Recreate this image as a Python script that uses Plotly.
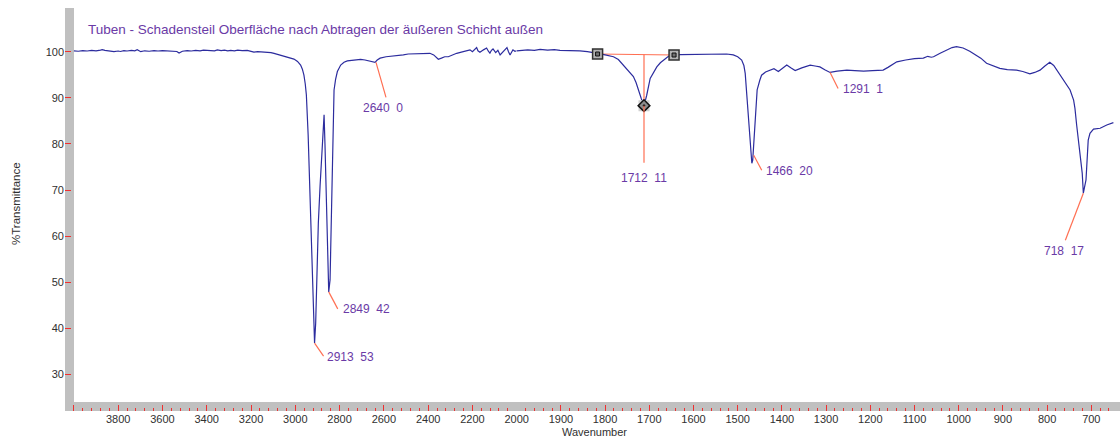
import plotly.graph_objects as go

# ---------------- data ----------------
wavenumber = [
    4000, 3980, 3960, 3940, 3920, 3900, 3880, 3872, 3860, 3840, 3819, 3800, 3790, 3774, 3760, 3740,
    3725, 3714, 3698, 3680, 3660, 3638, 3620, 3600, 3578, 3560, 3548, 3535, 3525, 3510, 3488, 3470,
    3450, 3430, 3415, 3397, 3380, 3365, 3352, 3335, 3320, 3305, 3292, 3275, 3260, 3240, 3217, 3200,
    3187, 3170, 3150, 3127, 3110, 3096, 3075, 3051, 3030, 3006, 2990, 2976, 2968, 2961, 2955, 2950,
    2942, 2934, 2926, 2919, 2913, 2908, 2902, 2896, 2888, 2881, 2875, 2870, 2866, 2861, 2856, 2851,
    2849, 2843, 2838, 2833, 2828, 2825, 2818, 2810, 2795, 2780, 2765, 2740, 2720, 2705, 2685, 2665,
    2645, 2640, 2630, 2617, 2590, 2560, 2540, 2512, 2490, 2460, 2437, 2410, 2392, 2375, 2362, 2354,
    2340, 2325, 2309, 2290, 2271, 2250, 2230, 2211, 2200, 2190, 2181, 2175, 2166, 2150, 2136, 2128,
    2121, 2114, 2107, 2095, 2085, 2075, 2060, 2044, 2037, 2030, 2022, 2017, 2008, 2000,
    1993, 1975, 1960, 1947, 1930, 1915, 1902, 1885, 1870, 1857, 1840, 1825, 1817, 1800, 1790, 1781,
    1770, 1759, 1748, 1736, 1730, 1725, 1718, 1712, 1706, 1698, 1690, 1683, 1675, 1668, 1658, 1649,
    1644, 1630, 1608, 1580, 1560, 1540, 1525, 1510, 1500, 1491, 1486, 1483, 1479, 1476, 1472, 1468,
    1466, 1461, 1456, 1450, 1446, 1437, 1427, 1418, 1408, 1398, 1389, 1380, 1370, 1355, 1336, 1325,
    1314, 1303, 1291, 1275, 1253, 1235, 1215, 1195, 1171, 1160, 1150, 1140, 1120, 1100, 1080, 1070,
    1062, 1057, 1042, 1025, 1015, 1005, 990, 975, 967, 950, 937, 920, 907, 890, 869, 855,
    839, 828, 816, 805, 794, 785, 778, 771, 760, 748, 740, 737, 733, 726, 720.5, 718,
    712, 707, 703, 695, 680, 665, 650,
]
transmittance = [
    100.2, 100.1, 100.25, 100.15, 100.3, 100.2, 100.35, 100.45, 100.3, 100.15, 100.0, 100.15, 100.05, 100.25, 100.15, 100.3,
    100.2, 100.45, 100.0, 100.2, 100.1, 100.25, 100.15, 100.25, 100.2, 100.1, 100.0, 100.05, 99.7, 100.1, 100.25, 100.15,
    100.3, 100.2, 100.35, 100.25, 100.3, 100.2, 100.4, 100.25, 100.35, 100.2, 100.3, 100.2, 100.35, 100.25, 100.3, 100.1,
    99.9, 100.0, 99.95, 99.9, 99.8, 99.65, 99.35, 99.1, 98.8, 98.4, 97.9, 97.1, 96.2, 94.9, 93.0, 90.6,
    82.0, 70.0, 58.0, 48.3, 36.8, 41.1, 52.0, 62.8, 71.0, 77.2, 82.5, 86.3, 80.0, 70.0, 62.0, 55.5,
    47.9, 50.5, 62.8, 77.2, 87.0, 91.7, 94.0, 95.7, 97.1, 97.7, 98.0, 98.2, 98.3, 98.35, 98.2, 98.0,
    97.8, 97.7, 98.2, 98.6, 98.9, 99.0, 99.2, 99.3, 99.5, 99.55, 99.65, 99.7, 99.65, 99.3, 98.7, 98.35,
    98.6, 98.9, 98.9, 99.3, 99.65, 99.9, 100.1, 100.4, 100.0, 100.5, 100.9, 100.2, 99.9, 100.4, 100.8, 100.1,
    99.7, 100.3, 100.6, 99.8, 100.3, 99.3, 100.2, 100.9, 100.0, 99.3, 100.0, 100.4, 100.1, 100.2,
    100.3, 100.4, 100.3, 100.5, 100.35, 100.45, 100.3, 100.25, 100.3, 100.2, 100.0, 99.8, 99.65, 99.3, 99.1, 98.9,
    98.3, 97.1, 96.0, 94.6, 93.3, 91.7, 89.8, 88.3, 90.5, 94.2, 95.6, 96.7, 97.6, 98.2, 98.9, 99.3,
    99.2, 99.35, 99.4, 99.5, 99.55, 99.6, 99.5, 99.3, 98.9, 98.2, 97.0, 95.3, 90.0, 84.5, 79.0, 75.8,
    76.5, 84.5, 91.7, 93.8, 94.9, 95.6, 95.9, 96.3, 95.7, 96.5, 97.1, 96.5, 95.9, 96.5, 97.1, 96.9,
    96.7, 96.1, 95.5, 95.8, 96.0, 95.9, 95.8, 95.9, 96.0, 96.6, 97.3, 97.8, 98.2, 98.5, 98.6, 99.0,
    98.8, 98.9, 99.65, 100.4, 100.9, 101.1, 100.8, 100.1, 99.65, 98.6, 97.5, 96.9, 96.4, 96.1, 96.0, 95.7,
    95.2, 95.5, 96.0, 96.9, 97.7, 97.0, 96.0, 94.9, 93.3, 91.7, 89.5, 87.7, 84.0, 78.7, 73.6, 69.3,
    72.2, 80.8, 82.3, 83.2, 83.4, 84.1, 84.6,
]

peak_wn = [2913, 2849, 2640, 1712, 1466, 1291, 718]
peak_T = [36.8, 47.9, 97.7, 88.3, 75.8, 95.5, 69.3]
peak_labels = ["2913\u00a0 53", "2849\u00a0 42", "2640\u00a0 0", "1712\u00a0 11",
               "1466\u00a0 20", "1291\u00a0 1", "718\u00a0 17"]

baseline_wn = [1817, 1644]
baseline_T = [99.5, 99.28]

x_ticks_high = [4000, 3800, 3600, 3400, 3200, 3000, 2800, 2600, 2400, 2200]
x_ticks_low = [2000, 1900, 1800, 1700, 1600, 1500, 1400, 1300, 1200, 1100, 1000, 900, 800, 700]
y_ticks = [30, 40, 50, 60, 70, 80, 90, 100]

title_text = "Tuben - Schadensteil Oberfläche nach Abtragen der äußeren Schicht außen"

# ---------------- style / layout ----------------
W, H = 1120, 441
ML, MR, MT, MB = 65, 6, 8, 30
PW = W - ML - MR
PH = H - MT - MB
split_frac = (516.7 - ML) / PW

LINE = "#2c2c9e"
PURPLE = "#6a3aa6"
LEAD = "#ff6f52"
TICKRED = "#f03030"
GRAY = "#c0c0c0"
FONT = "Liberation Sans, Arial, sans-serif"

# label placement (pixel offsets relative to peak): xshift, yshift(down), anchor
label_pos = [(10, 14, "left"), (12, 17, "left"), (8, 46, "center"), (0, 72, "center"),
             (11, 8, "left"), (11, 17, "left"), (-19, 58, "center")]
# leader line pixel offsets (start dx, dy, end dx, dy), y down
leader_pos = [(0, 0, 9, 13), (0, 0, 9, 17), (1, 0, 11, 35), (0, 0, 0, 57),
              (1, -8, 9, 7), (0, 0, 8, 16), (0, 0, -18, 47)]

hi = [(w, t) for w, t in zip(wavenumber, transmittance) if w >= 2000]
lo = [(w, t) for w, t in zip(wavenumber, transmittance) if w <= 2000]

def ax_of(w):
    return "x" if w > 2000 else "x2"

fig = go.Figure()

# baseline + vertical for 1712
base_at_peak = baseline_T[0] + (baseline_T[1] - baseline_T[0]) * (baseline_wn[0] - 1712) / (baseline_wn[0] - baseline_wn[1])
fig.add_trace(go.Scatter(x=baseline_wn, y=baseline_T, xaxis="x2", yaxis="y", mode="lines",
                         line=dict(color=LEAD, width=1.2), hoverinfo="skip"))
fig.add_trace(go.Scatter(x=[1712, 1712], y=[base_at_peak, peak_T[3]], xaxis="x2", yaxis="y", mode="lines",
                         line=dict(color=LEAD, width=1.2), hoverinfo="skip"))

fig.add_trace(go.Scatter(x=[p[0] for p in hi], y=[p[1] for p in hi], xaxis="x", yaxis="y",
                         mode="lines", line=dict(color=LINE, width=1.2)))
fig.add_trace(go.Scatter(x=[p[0] for p in lo], y=[p[1] for p in lo], xaxis="x2", yaxis="y",
                         mode="lines", line=dict(color=LINE, width=1.2)))

# markers
fig.add_trace(go.Scatter(x=baseline_wn, y=baseline_T, xaxis="x2", yaxis="y", mode="markers",
                         marker=dict(symbol="square", size=10, color="#b4b4b4", line=dict(color="#303030", width=1.5))))
fig.add_trace(go.Scatter(x=baseline_wn, y=baseline_T, xaxis="x2", yaxis="y", mode="markers",
                         marker=dict(symbol="square", size=4, color="#707070", line=dict(color="#101010", width=1))))
fig.add_trace(go.Scatter(x=[1712], y=[peak_T[3]], xaxis="x2", yaxis="y", mode="markers",
                         marker=dict(symbol="square", size=11, color="#d0d0d0", line=dict(width=0))))
fig.add_trace(go.Scatter(x=[1712], y=[peak_T[3]], xaxis="x2", yaxis="y", mode="markers",
                         marker=dict(symbol="diamond-dot", size=9, color="#8a8a8a", line=dict(color="#101010", width=1.5))))

shapes = [
    dict(type="rect", xref="paper", yref="paper", x0=0, x1=9 / PW, y0=0, y1=1,
         fillcolor=GRAY, line=dict(width=0), layer="below"),
    dict(type="rect", xref="paper", yref="paper", x0=0, x1=(W - ML) / PW, y0=0, y1=9 / PH,
         fillcolor=GRAY, line=dict(width=0), layer="below"),
]
for w, t, (sx, sy, ex, ey) in zip(peak_wn, peak_T, leader_pos):
    shapes.append(dict(type="line", xref=ax_of(w), yref="y", xsizemode="pixel", ysizemode="pixel",
                       xanchor=w, yanchor=t, x0=sx, x1=ex, y0=-sy, y1=-ey,
                       line=dict(color=LEAD, width=1.2)))

annotations = []
for w, t, lab, (dx, dy, anc) in zip(peak_wn, peak_T, peak_labels, label_pos):
    annotations.append(dict(x=w, y=t, xref=ax_of(w), yref="y", text=lab, showarrow=False,
                            xanchor=anc, yanchor="middle", xshift=dx, yshift=-dy,
                            font=dict(family=FONT, size=12, color=PURPLE)))
annotations.append(dict(x=(86 - ML) / PW, y=(H - MB - 30) / PH, xref="paper", yref="paper",
                        text=title_text, showarrow=False, xanchor="left", yanchor="middle",
                        font=dict(family=FONT, size=13.5, color=PURPLE)))
annotations.append(dict(x=(594 - ML) / PW, y=(H - MB - 432) / PH, xref="paper", yref="paper",
                        text="Wavenumber", showarrow=False, xanchor="center", yanchor="middle",
                        font=dict(family=FONT, size=11, color="#303030")))
annotations.append(dict(x=(16 - ML) / PW, y=(H - MB - 204) / PH, xref="paper", yref="paper",
                        text="%Transmittance", showarrow=False, textangle=-90, xanchor="center",
                        yanchor="middle", font=dict(family=FONT, size=11.5, color="#303030")))

common_x = dict(anchor="y", showgrid=False, zeroline=False, showline=False, ticks="inside",
                ticklen=6, tickwidth=1, tickcolor=TICKRED,
                tickfont=dict(family=FONT, size=11, color="#303030"))

fig.update_layout(
    width=W, height=H, margin=dict(l=ML, r=MR, t=MT, b=MB),
    paper_bgcolor="white", plot_bgcolor="rgba(0,0,0,0)", showlegend=False,
    xaxis=dict(domain=[0, split_frac], range=[2000 + (516.7 - ML) / 0.2214, 2000],
               tickmode="array", tickvals=x_ticks_high,
               ticktext=["" if v == 4000 else str(v) for v in x_ticks_high],
               minor=dict(ticks="inside", ticklen=3, tickcolor=TICKRED, tickmode="linear", tick0=0, dtick=40),
               **common_x),
    xaxis2=dict(domain=[split_frac, 1], range=[2000, 2000 - (W - MR - 516.7) / 0.442],
                tickmode="array", tickvals=x_ticks_low, ticktext=[str(v) for v in x_ticks_low],
                minor=dict(ticks="inside", ticklen=3, tickcolor=TICKRED, tickmode="linear", tick0=0, dtick=20),
                **common_x),
    yaxis=dict(anchor="x", range=[100 - (H - MB - 51.7) / 4.61, 100 + (51.7 - MT) / 4.61],
               tickmode="array", tickvals=y_ticks, showgrid=False, zeroline=False, showline=False,
               ticks="inside", ticklen=6, tickwidth=1, tickcolor=TICKRED,
               tickfont=dict(family=FONT, size=11, color="#303030")),
    shapes=shapes, annotations=annotations,
)

fig.write_html("out.html")
